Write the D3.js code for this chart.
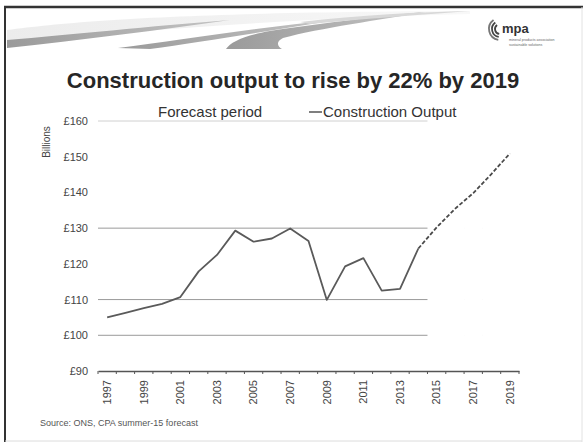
<!DOCTYPE html>
<html>
<head>
<meta charset="utf-8">
<script src="https://cdn.jsdelivr.net/npm/d3@7/dist/d3.min.js"></script>
<style>
  html, body { margin: 0; padding: 0; background: #fff; }
  svg { display: block; font-family: "Liberation Sans", Arial, sans-serif; }
</style>
</head>
<body>
<svg id="slide" width="587" height="444"></svg>
<script>
// Construction output, £ billions (ONS actuals, CPA summer-15 forecast)
const years = d3.range(1997, 2020);
const actualYears = d3.range(1997, 2015);
const actualValues = [105.0, 106.3, 107.6, 108.8, 110.7, 117.9, 122.5, 129.3, 126.2, 127.1,
                      129.9, 126.4, 109.9, 119.3, 121.6, 112.5, 113.0, 124.3];
const forecastYears = d3.range(2014, 2020);
const forecastValues = [124.3, 130.2, 135.4, 139.8, 145.2, 150.9];
// Forecast period band (drawn as white columns up to the axis maximum)
const periodYears = d3.range(2015, 2020);
const periodValues = [160, 160, 160, 160, 160];
const yTicks = [90, 100, 110, 120, 130, 140, 150, 160];
const gridValues = [100, 110, 130, 160];
const xLabelYears = d3.range(1997, 2020, 2);

const svg = d3.select("#slide");

// ---- slide decoration ----
const defs = svg.append("defs");
const g1 = defs.append("linearGradient").attr("id", "swoosh").attr("x1", 0).attr("x2", 1).attr("y1", 0).attr("y2", 0);
g1.append("stop").attr("offset", "0%").attr("stop-color", "#9a9a9a");
g1.append("stop").attr("offset", "100%").attr("stop-color", "#c4c4c4");
const g2 = defs.append("linearGradient").attr("id", "haze").attr("x1", 0).attr("x2", 1).attr("y1", 0).attr("y2", 0);
g2.append("stop").attr("offset", "0%").attr("stop-color", "#ececec");
g2.append("stop").attr("offset", "100%").attr("stop-color", "#f8f8f8");

const deco = svg.append("g");
deco.append("path").attr("d", "M7,30 C80,20 200,12 470,11 L470,14 C300,18 150,30 7,42 Z").attr("fill", "url(#haze)");
deco.append("path").attr("d", "M7,40 C70,35 150,26 230,20 C160,30 80,40 7,48 Z").attr("fill", "url(#swoosh)");
deco.append("path").attr("d", "M118,48 C180,40 260,27 335,20 C270,31 200,42 150,49 Z").attr("fill", "url(#swoosh)");
deco.append("path").attr("d", "M226,49 C232,40 250,33 290,28 C340,21 390,15 425,12 C380,20 320,28 283,38 C275,42 278,47 282,49 Z").attr("fill", "url(#swoosh)");
deco.append("path").attr("d", "M300,22 C360,15 420,12 470,11 C420,15 360,19 310,24 Z").attr("fill", "#d8d8d8");

// frame
svg.append("line").attr("x1", 4).attr("x2", 583).attr("y1", 7).attr("y2", 7).attr("stroke", "#333").attr("stroke-width", 2.5);
svg.append("line").attr("x1", 5).attr("x2", 5).attr("y1", 6).attr("y2", 442).attr("stroke", "#333").attr("stroke-width", 2);
svg.append("line").attr("x1", 582).attr("x2", 582).attr("y1", 7).attr("y2", 442).attr("stroke", "#e2e2e2").attr("stroke-width", 1);
svg.append("line").attr("x1", 5).attr("x2", 582).attr("y1", 441).attr("y2", 441).attr("stroke", "#dcdcdc").attr("stroke-width", 1);

// logo
const logo = svg.append("g").attr("transform", "translate(500,29)");
[5, 8, 11].forEach((r, i) => {
  logo.append("path")
    .attr("d", d3.arc()({innerRadius: r - 0.9, outerRadius: r + 0.9, startAngle: -Math.PI * 0.95, endAngle: -Math.PI * 0.2}))
    .attr("fill", i === 2 ? "#777" : "#444");
});
logo.append("text").attr("x", 2).attr("y", 4).attr("font-size", 13).attr("font-weight", "bold").attr("fill", "#333").text("mpa");
logo.append("text").attr("x", 9).attr("y", 12).attr("font-size", 3.6).attr("fill", "#666").text("mineral products association");
logo.append("text").attr("x", 9).attr("y", 17).attr("font-size", 3.6).attr("fill", "#666").text("sustainable solutions");

// title
svg.append("text").attr("x", 293).attr("y", 88).attr("text-anchor", "middle")
  .attr("font-size", 22).attr("font-weight", "bold").attr("fill", "#262626")
  .text("Construction output to rise by 22% by 2019");

// ---- chart ----
const x = d3.scaleBand().domain(years).range([98, 519]).padding(0);
const y = d3.scaleLinear().domain([90, 160]).range([371, 121]);
const cx = d => x(d) + x.bandwidth() / 2;

const plot = svg.append("g");

// gridlines
plot.selectAll("line.grid").data(gridValues).join("line")
  .attr("class", "grid")
  .attr("x1", x.range()[0]).attr("x2", x.range()[1])
  .attr("y1", d => y(d)).attr("y2", d => y(d))
  .attr("stroke", d => d === 160 ? "#d0d0d0" : "#9a9a9a").attr("stroke-width", 1);

// forecast period columns
plot.selectAll("rect.period").data(periodYears.map((yr, i) => ({yr, v: periodValues[i]}))).join("rect")
  .attr("class", "period")
  .attr("x", d => x(d.yr)).attr("width", x.bandwidth() + 0.5)
  .attr("y", d => y(d.v) - 1).attr("height", d => y(90) - y(d.v))
  .attr("fill", "#fff");

// y axis labels
const yAxis = d3.axisLeft(y).tickValues(yTicks).tickSize(0).tickPadding(0).tickFormat(d => "£" + d);
const ya = plot.append("g").attr("transform", "translate(88,0)").call(yAxis);
ya.select(".domain").remove();
ya.selectAll("text").attr("font-size", 11).attr("fill", "#444").attr("font-family", "Liberation Sans, Arial, sans-serif");

svg.append("text").attr("transform", "translate(50,142) rotate(-90)").attr("text-anchor", "middle")
  .attr("font-size", 10).attr("fill", "#444").text("Billions");

// x axis
const xa = plot.append("g").attr("transform", "translate(0,371)")
  .call(d3.axisBottom(x).tickValues(xLabelYears).tickSize(0).tickPadding(0));
xa.select(".domain").attr("stroke", "#555").attr("stroke-width", 1.3);
xa.selectAll("text")
  .attr("font-size", 11).attr("fill", "#444").attr("font-family", "Liberation Sans, Arial, sans-serif")
  .attr("transform", "rotate(-90)").attr("text-anchor", "end")
  .attr("x", -9).attr("y", 0).attr("dy", "0.35em");
// category boundary tick marks
plot.selectAll("line.xtick").data(d3.range(years.length + 1)).join("line")
  .attr("class", "xtick")
  .attr("x1", i => x.range()[0] + i * x.bandwidth()).attr("x2", i => x.range()[0] + i * x.bandwidth())
  .attr("y1", 371).attr("y2", 374)
  .attr("stroke", "#555").attr("stroke-width", 1);

// actual output
const line = d3.line().x(d => cx(d[0])).y(d => y(d[1]));
plot.append("path")
  .datum(actualYears.map((yr, i) => [yr, actualValues[i]]))
  .attr("d", line).attr("fill", "none")
  .attr("stroke", "#5a5a5a").attr("stroke-width", 1.8).attr("stroke-linejoin", "round");

// forecast output
plot.append("path")
  .datum(forecastYears.map((yr, i) => [yr, forecastValues[i]]))
  .attr("d", line).attr("fill", "none")
  .attr("stroke", "#4a4a4a").attr("stroke-width", 1.8).attr("stroke-dasharray", "4,2");

// legend
svg.append("text").attr("x", 158).attr("y", 117).attr("font-size", 15).attr("fill", "#333").text("Forecast period");
svg.append("line").attr("x1", 309).attr("x2", 322).attr("y1", 112).attr("y2", 112).attr("stroke", "#555").attr("stroke-width", 1.5);
svg.append("text").attr("x", 323).attr("y", 117).attr("font-size", 15).attr("fill", "#333").text("Construction Output");

// source
svg.append("text").attr("x", 40).attr("y", 426).attr("font-size", 9).attr("fill", "#555")
  .text("Source: ONS, CPA summer-15 forecast");
</script>
</body>
</html>
